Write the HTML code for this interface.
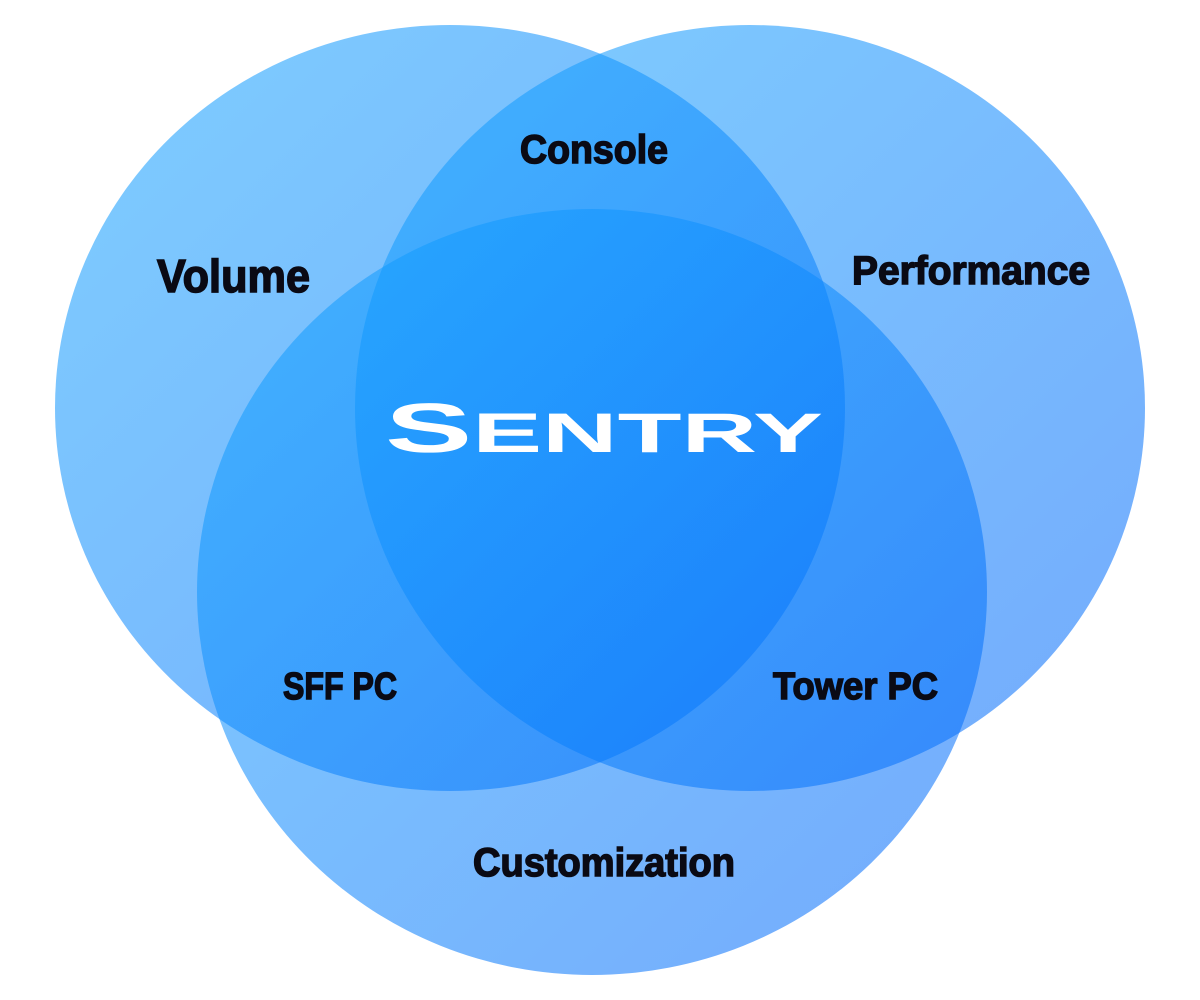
<!DOCTYPE html>
<html><head><meta charset="utf-8"><style>
html,body{margin:0;padding:0;background:#fff;width:1200px;height:1000px;overflow:hidden}
</style></head><body>
<svg width="1200" height="1000" viewBox="0 0 1200 1000" xmlns="http://www.w3.org/2000/svg">
<defs>
<linearGradient id="g" x1="0" y1="0" x2="1" y2="1">
<stop offset="0" stop-color="rgb(20,165,255)"/>
<stop offset="1" stop-color="rgb(0,100,250)"/>
</linearGradient>
</defs>
<g fill="url(#g)" fill-opacity="0.55">
<ellipse cx="450" cy="408" rx="395" ry="383"/>
<ellipse cx="750" cy="408" rx="395" ry="383"/>
<ellipse cx="592" cy="592" rx="395" ry="383"/>
</g>
<g font-family="'Liberation Sans Narrow','Liberation Sans',sans-serif" font-weight="bold" fill="#0a0a14" stroke="#0a0a14" stroke-width="1.5">
<text x="157" y="292" font-size="46" textLength="153" lengthAdjust="spacingAndGlyphs">Volume</text>
<text x="520" y="163" font-size="40" textLength="148" lengthAdjust="spacingAndGlyphs">Console</text>
<text x="852" y="284" font-size="40" textLength="238" lengthAdjust="spacingAndGlyphs">Performance</text>
<text x="283" y="699" font-size="38" textLength="114" lengthAdjust="spacingAndGlyphs">SFF PC</text>
<text x="773" y="699" font-size="38" textLength="165" lengthAdjust="spacingAndGlyphs">Tower PC</text>
<text x="473" y="876" font-size="40" textLength="262" lengthAdjust="spacingAndGlyphs">Customization</text>
</g>
<text x="385" y="452" font-family="'Liberation Sans',sans-serif" font-weight="bold" fill="#fff" textLength="438" lengthAdjust="spacingAndGlyphs"><tspan font-size="70">S</tspan><tspan font-size="56">ENTRY</tspan></text>
</svg>
</body></html>
